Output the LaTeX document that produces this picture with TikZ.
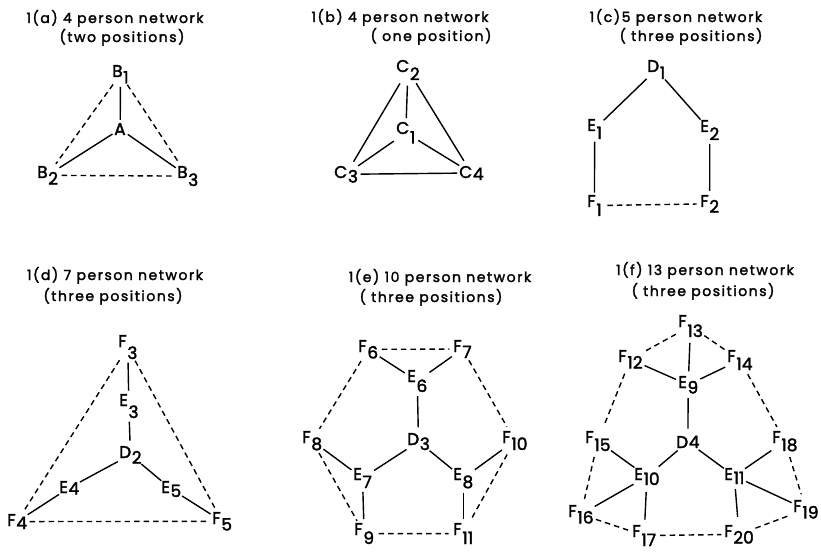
\documentclass[tikz,border=0pt]{standalone}
\usepackage{fontspec}
\setmainfont{Poppins}[FakeBold=2]
\newfontfamily\tfont[LetterSpace=11,FakeBold=2]{Poppins}
\newcommand\pn[6]{\node[pnode,anchor=text] (#1) at ({#2-4.8},{#3+6}) {#4\kern0.6pt\raisebox{-#6pt}{#5}};}
\tikzset{
  pnode/.style={circle, inner sep=0pt, minimum size=18pt, font=\fontsize{17}{17}\selectfont},
  ttl/.style={font=\tfont\fontsize{14}{16}\selectfont, inner sep=0pt, anchor=base},
  link/.style={line width=1.4pt},
  dlink/.style={line width=1.4pt, dash pattern=on 5.5pt off 4pt},
}
\begin{document}
\begin{tikzpicture}[x=1pt,y=-1pt]
\useasboundingbox (0,0) rectangle (821,553);
% titles
\node[ttl] (ta1) at (115,23) {1(a) 4 person network};
\node[ttl] (ta2) at (122,42) {(two positions)};
\node[ttl] (tb1) at (400,22) {1(b) 4 person network};
\node[ttl] (tb2) at (431,41) {( one position)};
\node[ttl] (tc1) at (676,22) {1(c)5 person network};
\node[ttl] (tc2) at (691,41) {( three positions)};
\node[ttl] (td1) at (115,280) {1(d) 7 person network};
\node[ttl] (td2) at (113,301) {(three positions)};
\node[ttl] (te1) at (440,282) {1(e) 10 person network};
\node[ttl] (te2) at (431,302) {( three positions)};
\node[ttl] (tf1) at (705,275) {1(f) 13 person network};
\node[ttl] (tf2) at (703,296) {( three positions)};
% (a)
\pn{B1}{117}{71}{B}{1}{6.5}
\pn{A}{119}{129}{A}{}{0}
\pn{B2}{42}{172}{B}{2}{6.5}
\pn{B3}{182}{172}{B}{3}{8}
\draw[link] (B1) -- (A);
\draw[link] (A) -- (B2);
\draw[link] (A) -- (B3);
\draw[dlink] (B1) -- (B2);
\draw[dlink] (B1) -- (B3);
\draw[dlink] (B2) -- (B3);
% (b)
\pn{C2}{401}{66}{C}{2}{8}
\pn{C1}{401}{128}{C}{1}{9.5}
\pn{C3}{339}{172}{C}{3}{4.5}
\pn{C4}{464}{172}{C}{4}{2}
\draw[link] (C2) -- (C1);
\draw[link] (C2) -- (C3);
\draw[link] (C2) -- (C4);
\draw[link] (C1) -- (C3);
\draw[link] (C1) -- (C4);
\draw[link] (C3) -- (C4);
% (c)
\pn{D1}{652}{66}{D}{1}{7}
\pn{E1}{592}{125}{E}{1}{8}
\pn{E2}{705}{126}{E}{2}{8}
\pn{F1}{592}{201}{F}{1}{9}
\pn{F2}{705}{201}{F}{2}{5.5}
\draw[link] (D1) -- (E1);
\draw[link] (D1) -- (E2);
\draw[link] (E1) -- (F1);
\draw[link] (E2) -- (F2);
\draw[dlink] (F1) -- (F2);
% (d)
\pn{F3}{123}{341}{F}{3}{12}
\pn{E3}{124}{400}{E}{3}{12}
\pn{D2}{124}{452}{D}{2}{5.5}
\pn{E4}{64}{487}{E}{4}{1.5}
\pn{E5}{166}{487}{E}{5}{4}
\pn{F4}{12}{520}{F}{4}{3}
\pn{F5}{217}{518}{F}{5}{6.5}
\draw[link] (F3) -- (E3);
\draw[link] (E3) -- (D2);
\draw[link] (D2) -- (E4);
\draw[link] (D2) -- (E5);
\draw[link] (E4) -- (F4);
\draw[link] (E5) -- (F5);
\draw[dlink] (F3) -- (F4);
\draw[dlink] (F3) -- (F5);
\draw[dlink] (F4) -- (F5);
% (e)
\pn{F6}{363}{346}{F}{6}{6.5}
\pn{F7}{458}{346}{F}{7}{6}
\pn{E6}{412}{376}{E}{6}{10}
\pn{D3}{412}{439}{D}{3}{5}
\pn{F8}{307}{437}{F}{8}{7}
\pn{F10}{507}{437}{F}{10}{7}
\pn{E7}{358}{474}{E}{7}{8}
\pn{E8}{458}{474}{E}{8}{8}
\pn{F9}{359}{529}{F}{9}{9}
\pn{F11}{458}{529}{F}{11}{9}
\draw[link] (F6) -- (E6);
\draw[link] (F7) -- (E6);
\draw[link] (E6) -- (D3);
\draw[link] (D3) -- (E7);
\draw[link] (D3) -- (E8);
\draw[link] (F8) -- (E7);
\draw[link] (F10) -- (E8);
\draw[link] (E7) -- (F9);
\draw[link] (E8) -- (F11);
\draw[dlink] (F6) -- (F7);
\draw[dlink] (F6) -- (F8);
\draw[dlink] (F7) -- (F10);
\draw[dlink] (F8) -- (F9);
\draw[dlink] (F10) -- (F11);
\draw[dlink] (F9) -- (F11);
% (f)
\pn{F13}{683}{321}{F}{13}{10}
\pn{F12}{623}{356}{F}{12}{6.5}
\pn{F14}{732}{356}{F}{14}{8}
\pn{E9}{683}{382}{E}{9}{5.5}
\pn{D4}{681}{442}{D}{4}{0}
\pn{F15}{590}{437}{F}{15}{8}
\pn{F18}{777}{437}{F}{18}{8}
\pn{E10}{639}{474}{E}{10}{5}
\pn{E11}{729}{474}{E}{11}{4}
\pn{F16}{573}{511}{F}{16}{6.5}
\pn{F19}{798}{506}{F}{19}{6.5}
\pn{F17}{637}{531}{F}{17}{9}
\pn{F20}{729}{531}{F}{20}{6.5}
\draw[link] (F13) -- (E9);
\draw[link] (F12) -- (E9);
\draw[link] (F14) -- (E9);
\draw[link] (E9) -- (D4);
\draw[link] (D4) -- (E10);
\draw[link] (D4) -- (E11);
\draw[link] (F15) -- (E10);
\draw[link] (F18) -- (E11);
\draw[link] (E10) -- (F16);
\draw[link] (E10) -- (F17);
\draw[link] (E11) -- (F19);
\draw[link] (E11) -- (F20);
\draw[dlink] (F13) -- (F12);
\draw[dlink] (F13) -- (F14);
\draw[dlink] (F12) -- (F15);
\draw[dlink] (F14) -- (F18);
\draw[dlink] (F15) -- (F16);
\draw[dlink] (F18) -- (F19);
\draw[dlink] (F16) -- (F17);
\draw[dlink] (F17) -- (F20);
\draw[dlink] (F20) -- (F19);
\end{tikzpicture}
\end{document}
